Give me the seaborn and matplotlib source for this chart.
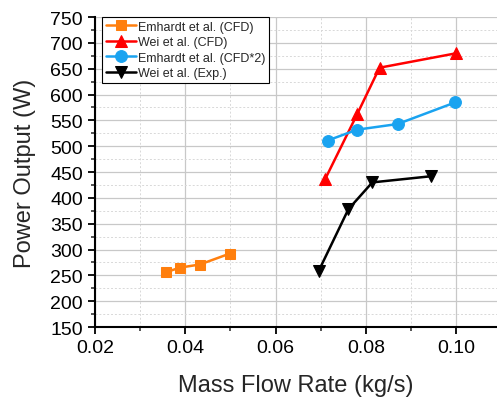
import matplotlib
matplotlib.use("Agg")
import matplotlib.pyplot as plt
from matplotlib.ticker import MultipleLocator
import seaborn as sns
import pandas as pd

labels = ["Emhardt et al. (CFD)", "Wei et al. (CFD)", "Emhardt et al. (CFD*2)", "Wei et al. (Exp.)"]
emh_cfd_x = [0.0357, 0.0388, 0.0432, 0.0498]
emh_cfd_y = [256, 265, 271, 292]
wei_cfd_x = [0.0710, 0.0781, 0.0830, 0.1000]
wei_cfd_y = [437, 563, 652, 680]
emh2_x = [0.0715, 0.0780, 0.0870, 0.0998]
emh2_y = [511, 532, 543, 585]
wei_exp_x = [0.0695, 0.0761, 0.0814, 0.0945]
wei_exp_y = [258, 378, 430, 442]

colors = ["#ff7f0e", "#ff0000", "#1aa3f0", "#000000"]
markers = ["s", "^", "o", "v"]
msizes = [7, 9, 8.5, 8.5]

sns.set_style("white")
plt.rcParams['font.family'] = ['Liberation Sans', 'DejaVu Sans']

fig = plt.figure(figsize=(4.97, 4.02), dpi=100)
ax = fig.add_axes([0.191, 0.184, 0.809, 0.771])

series = [(emh_cfd_x, emh_cfd_y), (wei_cfd_x, wei_cfd_y), (emh2_x, emh2_y), (wei_exp_x, wei_exp_y)]
for (xs, ys), lab, c, m, ms in zip(series, labels, colors, markers, msizes):
    df = pd.DataFrame({"x": xs, "y": ys})
    sns.lineplot(data=df, x="x", y="y", ax=ax, color=c, marker=m, markersize=ms,
                 markeredgecolor=c, linewidth=1.8, label=lab, sort=False)

ax.set_xlim(0.02, 0.109)
ax.set_ylim(150, 750)
ax.xaxis.set_major_locator(MultipleLocator(0.02))
ax.xaxis.set_minor_locator(MultipleLocator(0.01))
ax.yaxis.set_major_locator(MultipleLocator(50))
ax.yaxis.set_minor_locator(MultipleLocator(25))
ax.set_xticklabels([f"{v:.2f}" for v in ax.get_xticks()])
ax.grid(True, which="major", color="#c8c8c8", linewidth=0.9, linestyle="-")
ax.grid(True, which="minor", color="#d8d8d8", linewidth=0.7, linestyle=(0, (2, 2)))
ax.set_axisbelow(True)

for s in ["top", "right"]:
    ax.spines[s].set_visible(False)
for s in ["left", "bottom"]:
    ax.spines[s].set_color("black")
    ax.spines[s].set_linewidth(1.5)

ax.tick_params(which="major", direction="out", length=5, width=1.3, labelsize=14, colors="black", left=True, bottom=True)
ax.tick_params(which="minor", direction="out", length=3, width=1.1, left=True, bottom=True)

ax.set_xlabel("Mass Flow Rate (kg/s)", fontsize=17, labelpad=13)
ax.set_ylabel("Power Output (W)", fontsize=17, labelpad=10)

leg = ax.legend(loc="upper left", bbox_to_anchor=(0.017, 1.0), fontsize=9, frameon=True, fancybox=False,
                edgecolor="black", framealpha=1, borderpad=0.3, labelspacing=0.28,
                handlelength=2.4, handletextpad=0.2, borderaxespad=0.0)
leg.get_frame().set_linewidth(0.8)

fig.savefig("out.png", dpi=100)
